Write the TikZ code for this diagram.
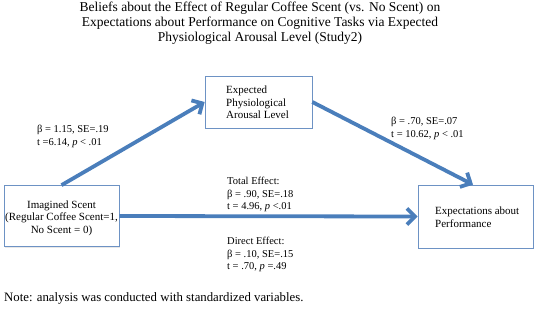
\documentclass[tikz,border=0pt]{standalone}
\usepackage{fontspec}
\setmainfont{Liberation Serif}
\usetikzlibrary{arrows.meta,shadows}
\definecolor{arrowblue}{HTML}{4A7EBB}
\definecolor{boxblue}{HTML}{6D92C4}
\tikzset{
  box/.style={draw=boxblue, line width=0.7pt, fill=white, rectangle, inner sep=0pt,
    drop shadow={opacity=0.18, shadow xshift=1pt, shadow yshift=-1.2pt}},
  path arrow/.style={draw=arrowblue, line width=3.8pt,
    -{Straight Barb[length=8pt,width=16pt,line width=3.8pt]}},
  lbl/.style={anchor=north west, inner sep=0pt, align=left, font=\fontsize{10.5}{12.5}\selectfont},
  boxtxt/.style={inner sep=0pt, font=\fontsize{11}{12.5}\selectfont}
}
\begin{document}
\begin{tikzpicture}[x=1pt,y=-1pt]
\useasboundingbox (0,0) rectangle (534,311);
% title
\node[anchor=north, inner sep=0pt, align=center, font=\fontsize{13.5}{15}\selectfont] (title) at (260,1.5)
  {Beliefs about the Effect of Regular Coffee Scent (vs. No Scent) on\\
   Expectations about Performance on Cognitive Tasks via Expected\\
   Physiological Arousal Level (Study2)};
% boxes
\node[box, minimum width=107pt, minimum height=52pt] (med) at (258.5,102) {};
\node[boxtxt, anchor=north west, align=left] (medtxt) at (226,86) {Expected\\Physiological\\Arousal Level};
\node[box, minimum width=115pt, minimum height=61pt] (iv) at (61.5,216) {};
\node[boxtxt, align=center] (ivtxt) at (61.5,218) {Imagined Scent\\(Regular Coffee Scent=1,\\No Scent = 0)};
\node[box, minimum width=115pt, minimum height=63pt] (dv) at (475.5,216.5) {};
\node[boxtxt, anchor=north west, align=left] (dvtxt) at (435,207) {Expectations about\\Performance};
% connectors
\coordinate (dvtop) at ([xshift=-2.5pt]dv.north);
\draw[path arrow] (iv.north) -- (med.west);
\draw[path arrow] (med.east) -- (dvtop);
\draw[path arrow] (iv.east) -- (dv.west);
% labels
\node[lbl] (a) at (37,125) {β = 1.15, SE=.19\\t =6.14, \textit{p} {\textless} .01};
\node[lbl] (b) at (391,117) {β = .70, SE=.07\\t = 10.62, \textit{p} {\textless} .01};
\node[lbl] (tot) at (227,177) {Total Effect:\\β = .90, SE=.18\\t = 4.96, \textit{p} {\textless}.01};
\node[lbl] (dir) at (227,237) {Direct Effect:\\β = .10, SE=.15\\t = .70, \textit{p} =.49};
\node[anchor=west, inner sep=0pt, font=\fontsize{12.8}{14}\selectfont] (note) at (4,298) {Note: analysis was conducted with standardized variables.};
\end{tikzpicture}
\end{document}
